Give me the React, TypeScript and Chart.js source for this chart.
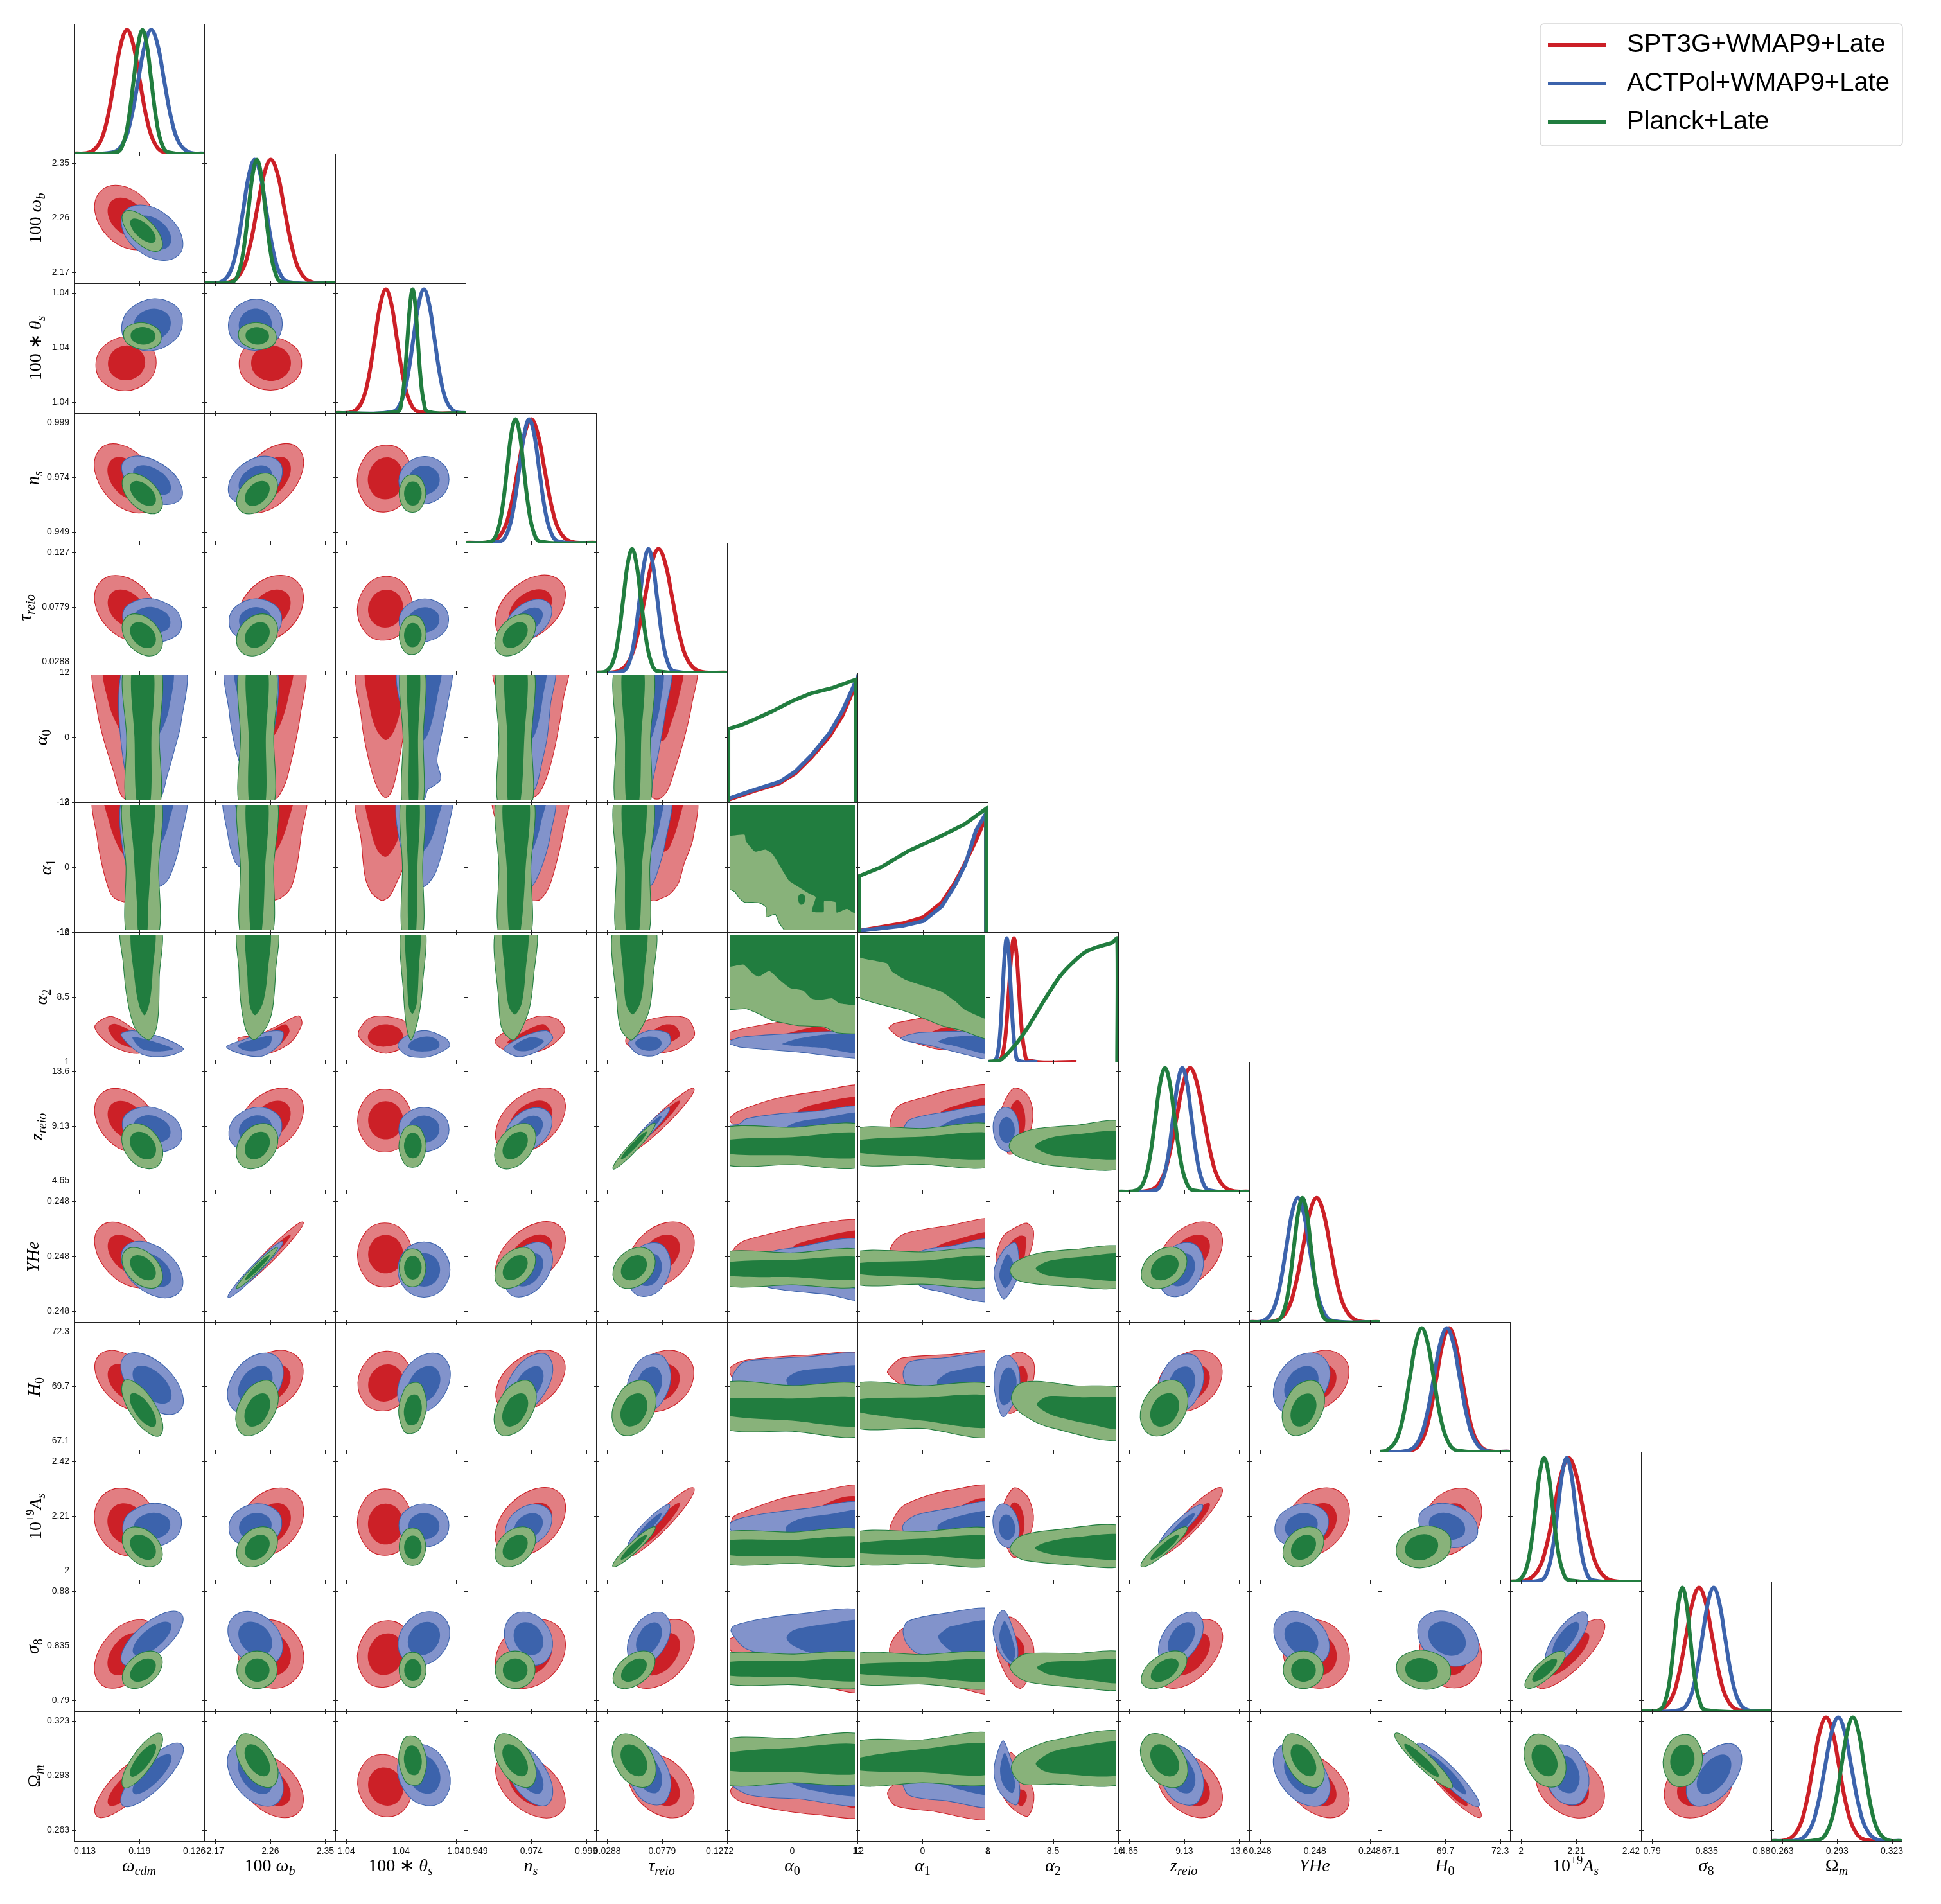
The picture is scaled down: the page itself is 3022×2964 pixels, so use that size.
import React, { useEffect, useRef } from "react";
import { Chart, registerables } from "chart.js";
Chart.register(...registerables);

// Triangle plot. Values are read off the reference. Contours are listed as x,y,x,y... in
// percent of each parameter's plotted range and converted to parameter units by toVal().
const seriesNames = ["SPT3G+WMAP9+Late", "ACTPol+WMAP9+Late", "Planck+Late"];
const seriesColors = ["#cc2027", "#3c63ac", "#217d3f"];
const seriesLight = ["#e27e82", "#8293cb", "#88b27a"];

const tick_wc = [0.113, 0.1195, 0.126]; const label_wc = ["0.113", "0.119", "0.126"];
const tick_wb = [2.17, 2.26, 2.35]; const label_wb = ["2.17", "2.26", "2.35"];
const tick_th = [1.0385, 1.04, 1.0415]; const label_th = ["1.04", "1.04", "1.04"];
const tick_ns = [0.949, 0.974, 0.999]; const label_ns = ["0.949", "0.974", "0.999"];
const tick_ta = [0.0288, 0.0779, 0.127]; const label_ta = ["0.0288", "0.0779", "0.127"];
const tick_a0 = [-12, 0, 12]; const label_a0 = ["-12", "0", "12"];
const tick_a1 = [-12, -2, 8]; const label_a1 = ["-12", "0", "8"];
const tick_a2 = [1, 8.5, 16]; const label_a2 = ["1", "8.5", "16"];
const tick_z = [4.65, 9.13, 13.6]; const label_z = ["4.65", "9.13", "13.6"];
const tick_y = [0.2478, 0.248, 0.2482]; const label_y = ["0.248", "0.248", "0.248"];
const tick_h = [67.1, 69.7, 72.3]; const label_h = ["67.1", "69.7", "72.3"];
const tick_as = [2, 2.21, 2.42]; const label_as = ["2", "2.21", "2.42"];
const tick_s8 = [0.79, 0.835, 0.88]; const label_s8 = ["0.79", "0.835", "0.88"];
const tick_om = [0.263, 0.293, 0.323]; const label_om = ["0.263", "0.293", "0.323"];
const axisTicks = [tick_wc, tick_wb, tick_th, tick_ns, tick_ta, tick_a0, tick_a1, tick_a2, tick_z, tick_y, tick_h, tick_as, tick_s8, tick_om];
const axisLabels = [label_wc, label_wb, label_th, label_ns, label_ta, label_a0, label_a1, label_a2, label_z, label_y, label_h, label_as, label_s8, label_om];

const mathNames: [string, string][][] = [
  [["ω", "i"], ["cdm", "s"]],
  [["100 ", "r"], ["ω", "i"], ["b", "s"]],
  [["100 ∗ ", "r"], ["θ", "i"], ["s", "s"]],
  [["n", "i"], ["s", "s"]],
  [["τ", "i"], ["reio", "s"]],
  [["α", "i"], ["0", "n"]],
  [["α", "i"], ["1", "n"]],
  [["α", "i"], ["2", "n"]],
  [["z", "i"], ["reio", "s"]],
  [["YHe", "i"]],
  [["H", "i"], ["0", "n"]],
  [["10", "r"], ["+9", "u"], ["A", "i"], ["s", "s"]],
  [["σ", "i"], ["8", "n"]],
  [["Ω", "r"], ["m", "s"]],
];
const yNameX = [0, 64, 64, 60, 48, 73, 80, 73, 66, 60, 62, 64, 60, 62];

// 1-D posteriors: x position (percent of range) where each curve crosses the levels in curveLevels.
const curveLevels = [0, 0.011, 0.089, 0.278, 0.607, 0.882, 1, 0.882, 0.607, 0.278, 0.089, 0.011, 0];
const pdf_wc = [[0, 12.3, 19.9, 25.6, 31.3, 36, 40.8, 45.5, 50.3, 56, 61.7, 69.3, 100], [0, 30.2, 38, 43.8, 49.6, 54.5, 59.3, 64.2, 69, 74.8, 80.6, 88.4, 100], [0, 32.8, 38.1, 42, 46, 49.3, 52.6, 55.9, 59.2, 63.2, 67.1, 72.4, 100]];
const pdf_wb = [[0, 19.9, 28.1, 34.3, 40.5, 45.7, 50.8, 56, 61.1, 67.3, 73.5, 81.7, 100], [0, 12.7, 19.6, 24.7, 29.9, 34.2, 38.5, 42.8, 47.1, 52.3, 57.4, 64.3, 100], [0, 21.3, 26.3, 30.1, 33.9, 37, 40.2, 43.4, 46.5, 50.3, 54.1, 59.1, 100]];
const pdf_th = [[0, 13.6, 20.3, 25.4, 30.4, 34.6, 38.8, 43, 47.2, 52.2, 57.3, 64, 100], [0, 44, 50.4, 55.2, 60, 64, 68, 72, 76, 80.8, 85.6, 92, 100], [0, 47.6, 50.7, 53.1, 55.4, 57.4, 59.3, 61.3, 63.2, 65.5, 67.9, 71, 100]];
const pdf_ns = [[0, 20.3, 28.3, 34.3, 40.3, 45.3, 50.3, 55.3, 60.3, 66.3, 72.3, 80.3, 100], [0, 26.2, 32.2, 36.7, 41.2, 45, 48.7, 52.5, 56.2, 60.7, 65.2, 71.2, 100], [0, 19.3, 24.3, 28.1, 31.9, 35, 38.2, 41.4, 44.5, 48.3, 52.1, 57.1, 100]];
const pdf_ta = [[0, 16.5, 24.8, 31, 37.3, 42.5, 47.7, 52.9, 58.1, 64.3, 70.6, 78.9, 100], [0, 20.2, 25.5, 29.4, 33.4, 36.7, 40, 43.3, 46.6, 50.6, 54.5, 59.8, 100], [0, 7.7, 13, 16.9, 20.9, 24.2, 27.5, 30.8, 34.1, 38.1, 42, 47.3, 100]];
const pdf_a2 = [[0, 8.9, 11.9, 14.1, 16.3, 18.2, 20, 21.9, 23.7, 25.9, 28.1, 31.1, 68], [0, 5.5, 7.9, 9.7, 11.5, 13, 14.5, 16, 17.5, 19.3, 21.1, 23.5, 38]];
const pdf_z = [[0, 24.3, 32.5, 38.6, 44.7, 49.8, 54.9, 60, 65.1, 71.2, 77.3, 85.5, 100], [0, 28.2, 33.7, 37.9, 42, 45.5, 48.9, 52.4, 55.8, 60, 64.1, 69.6, 100], [0, 14.1, 19.9, 24.2, 28.5, 32.1, 35.7, 39.3, 42.9, 47.2, 51.5, 57.3, 100]];
const pdf_y = [[0, 20.5, 28.8, 35, 41.3, 46.5, 51.7, 56.9, 62.1, 68.3, 74.6, 82.9, 100], [0, 10.9, 17.9, 23.2, 28.5, 32.9, 37.3, 41.7, 46.1, 51.4, 56.7, 63.7, 100], [0, 21.3, 26.5, 30.4, 34.3, 37.6, 40.8, 44.1, 47.3, 51.2, 55.1, 60.3, 100]];
const pdf_h = [[0, 24.5, 32.2, 38, 43.7, 48.5, 53.3, 58.1, 62.9, 68.7, 74.4, 82.1, 100], [0, 22.1, 29.9, 35.8, 41.7, 46.6, 51.5, 56.4, 61.3, 67.2, 73.1, 80.9, 100], [0, 5.3, 12.5, 17.9, 23.3, 27.8, 32.3, 36.8, 41.3, 46.7, 52.1, 59.3, 100]];
const pdf_as = [[0, 12.6, 21.2, 27.6, 34, 39.4, 44.7, 50.1, 55.4, 61.8, 68.2, 76.8, 100], [0, 23.5, 28.8, 32.7, 36.7, 40, 43.3, 46.6, 49.9, 53.9, 57.8, 63.1, 100], [0, 6.8, 11.9, 15.8, 19.6, 22.8, 26, 29.2, 32.4, 36.2, 40.1, 45.2, 100]];
const pdf_s8 = [[0, 14.5, 22.5, 28.5, 34.5, 39.5, 44.5, 49.5, 54.5, 60.5, 66.5, 74.5, 100], [0, 29.9, 36.8, 41.9, 47.1, 51.4, 55.7, 60, 64.3, 69.5, 74.6, 81.5, 100], [0, 14, 18.7, 22.3, 25.8, 28.8, 31.7, 34.7, 37.6, 41.1, 44.7, 49.4, 100]];
const pdf_om = [[0, 12.2, 20.1, 26.1, 32, 37, 41.9, 46.9, 51.8, 57.7, 63.7, 71.6, 100], [0, 21.2, 29.2, 35.2, 41.2, 46.2, 51.2, 56.2, 61.2, 67.2, 73.2, 81.2, 100], [0, 36.3, 43.3, 48.5, 53.7, 58.1, 62.4, 66.8, 71.1, 76.3, 81.5, 88.5, 100]];
// Non-Gaussian 1-D curves, as x,y pairs (y relative to peak).
const curve_a0 = [[1, .02, 20.4, .09, 40.4, .155, 52.4, .235, 64.4, .36, 78.4, .53, 88.4, .7, 98.6, .95, 98.6, 0], [1, .03, 20.4, .1, 40.4, .166, 52.4, .25, 64.4, .378, 78.4, .558, 88.4, .738, 98.6, .977, 98.6, 0], [1, 0, 1, .595, 10.4, .624, 20.4, .668, 34.4, .735, 50, .82, 64.4, .882, 80.4, .924, 98.6, .993, 98.6, 0]];
const curve_a1 = [[1, .01, 34.5, .07, 50.6, .12, 64.6, .24, 74.7, .4, 82.7, .56, 90.8, .74, 98.6, .93, 98.6, 0], [1, .01, 34.5, .05, 50.6, .09, 64.6, .208, 74.7, .378, 82.7, .546, 90.8, .82, 98.6, .96, 98.6, 0], [1, 0, 1, .452, 18.4, .526, 38.5, .653, 64.6, .78, 82.7, .876, 98.8, 1, 98.8, 0]];
const curve_a2_green = [0.8, 0, 9.9, .017, 21, .137, 31, .284, 43, .494, 55, .688, 65.3, .805, 75.4, .893, 85.5, .934, 95.6, .966, 99.2, 1, 99.2, 0];

// 2-D contours per row; each panel: [red outer, red inner, blue outer, blue inner, green outer, green inner].
const row_wb = [
  [[54,65.3,20.5,71,26,36.1,59.5,30.4],[49,59.8,28.7,63.2,32,42.2,52.3,38.8],[73.3,50.7,40,56.5,46.7,27.3,80,21.5],[68.3,46.2,47.5,49.8,51.7,31.8,72.5,28.2],[59,47,38.4,54.6,46,33.7,66.6,26],[57,44.5,44,49,49,36.5,62,32]],
];
const row_th = [
  [[57,53,23.5,52,23,23,56.5,24],[51,48,30.5,48,30,29,50.5,29.5],[78,82.6,44,81,42,53.4,76,55],[71,77,50,76,49,59,70,60],[63,66,41,66.5,42,53,64,52],[60,64,45.6,64,46,55,60.4,55]],
  [[68,52,33,52,33,24,68,24],[62,48,40,48,40,29,62,29],[54,82,24.5,81.6,24,54,53.5,54.4],[48,77,30,76.5,30,59,48,59.5],[51,66,29,66.5,30,53,52,52],[47,64,33.5,64,34,55,47.5,55]],
];
const row_ns = [
  [[53.3,64.7,20,72.2,26.7,34.7,60,27.2],[48.5,59,28.4,63.6,32.5,40.4,52.6,35.8],[72.1,57.4,39.3,63.9,47.9,39,80.7,32.5],[67.6,53.9,47.1,57.9,52.4,42.5,72.9,38.5],[60.3,45.8,39.1,51.5,44.7,30.2,65.9,24.5],[58,42.8,44.3,46.3,48,33.2,61.7,29.7]],
  [[72,72.7,37.7,63.8,29.4,26.7,63.7,35.6],[63.8,63.9,43.2,58.4,38.2,35.5,58.8,41],[56.3,63.2,27,58.6,21.7,33.2,51,37.8],[49.7,57.4,31.6,54.6,28.3,39,46.4,41.8],[53.4,51,31.6,46.7,27.2,25,49,29.3],[48.4,46,35.2,43.3,32.6,30,45.8,32.7]],
  [[53,69,24,68,23,30,52,31],[48,62,29.5,61,29,37.6,48,38],[82,61.4,54.4,60.7,54,35,81.6,35.7],[77,56,59.5,56,59,40,76.5,40.5],[66,49,52.4,49,52.4,27,66,27],[64,45,55,45,55,31,64,31]],
];
const row_ta = [
  [[54,64.4,20.5,70.2,26,34.6,59.5,28.8],[49,57.9,28.7,61.2,32,40.7,52.3,37.4],[75.6,50.7,41.8,52.4,44.4,29.9,78.2,28.2],[69.8,46.7,48.6,47.7,50.2,34.1,71.4,33.1],[61.3,38.3,39.8,42.4,43.7,19.7,65.2,15.6],[58.7,34.6,44.8,37.1,47.3,23.2,61.2,20.7]],
  [[70.9,70.1,35.9,64.6,30.5,28.9,65.5,34.4],[63.1,61.1,42.1,58,38.9,37.5,59.9,40.6],[54.2,51.9,24.5,51.3,23.8,28.7,53.5,29.3],[48.4,47.4,30,47,29.6,33.4,48,33.8],[52.7,41.9,30.7,39,27.9,16.1,49.9,19],[48,36.8,34.7,35,33,21,46.3,22.8]],
  [[53,68,24,67,23,31,52,32],[48.3,60,29.5,59.4,29,38.6,48,39],[82,52,54.4,51.3,53.7,28.7,81.6,29.3],[77,47.4,59.5,47,59,33.4,76.5,33.8],[66.3,40.8,52.6,40.2,52.3,17.2,66,17.8],[64,36,55,36,55,21.6,64,22]],
  [[72.3,70.8,34.9,63.5,27.1,28.2,64.5,35.5],[63.7,61.6,40.5,57.4,35.7,37,58.9,41.2],[63.5,53.8,38.4,48.9,32.9,26.8,58,31.7],[57.6,48.5,42.2,45.6,38.8,32.3,54.2,35.2],[51.1,42.6,29.5,37.9,24.9,15.4,46.5,20.1],[46,37.3,32.7,34.4,30,20.5,43.3,23.4]],
];
const row_a0 = [
  [[16,105,18,70,23,48,31,22,35,8,40,2,55,2,60,105],[23.5,105,27,75,33,60,40,48,50,48,55,105],[38,105,84.5,105,82,60,77,40,72,22,65,2,44,2],[45,105,75,105,73,72,67,55,60,48,48,48],[39,105,66,105,65.5,50,65,-5,41.5,-5,40.5,50],[45,105,60.5,105,59.5,50,58,-5,49,-5,46.5,50]],
  [[40,105,76,105,73,65,70,48,66,30,62,15,55,3,45,3],[40,105,67,105,64,80,58,60,50,48,40,48],[17,105,19,70,23,45,28,28,35,15,45,15,55,105],[24,105,27,75,30,60,45,60,55,105],[27.7,105,53.7,105,53,50,52,-5,27.7,-5,27.7,50],[32.7,105,48,105,47,50,46,-5,35,-5,34,50]],
  [[17.5,105,20,65,23,45,29,20,34,8,38.8,3.5,43,8,47,22,52,50,60,105],[24,105,27,70,32,55,38.8,48,45,55,50,72,52,105],[48.5,105,88,105,86,75,81,50,78,32,81,18,76,13,71,10,68,2,60,2,55,50],[55,105,80.5,105,78,80,73,58,68,48,58,48],[50.5,105,68,105,67.4,50,66.5,-5,52,-5,52,50],[55.5,105,64.5,105,63.5,50,63,-5,57,-5,56.5,50]],
  [[22.5,105,77.5,105,75,80,70,50,64,25,57,8,50,3,40,3,28,70],[35,105,62,105,58,75,50,60,40,60],[30,105,67.5,105,65,75,62.5,50,59,33,54,12,49,6,38,6],[36,105,61,105,59,80,55,58,50,48,38,48],[25,105,51.3,105,50.5,50,49.7,-5,26,-5,25.5,50],[30.7,105,46.4,105,45,50,41,-5,33,-5,32,50]],
  [[30,105,75.5,105,73,75,67,48,61,28,55,10,49,3,44,3,40,10,38,50],[40,105,65.7,105,63,80,57,60,52,48,42,48],[25,105,56.5,105,53,70,48,40,43,15,41,2,30,2],[30,105,50.5,105,49,75,45,58,41,48,31,48],[15,105,42.8,105,41.5,50,40,-5,16,-5,15.5,50],[20.5,105,36,105,34.5,50,32,-5,23.7,-5,22,50]],
];
const row_a1 = [
  [[16,105,18,72,22,50,28,30,33,25,42,24,58,50,60,105],[24,105,27,85,33,68,40,58,50,58,55,105],[38,105,85,105,82,72,78,55,72,40,65,35,45,35],[45,105,75.6,105,73,85,68,70,62,64,48,64],[38.6,105,66,105,65,50,64,-5,41.5,-5,40,50],[44.5,105,61,105,59.5,60,57,20,55.5,-5,50,-5,48.5,20,46,60]],
  [[40,105,76.8,105,74,75,70.5,50,66,34,58,26,50,24,45,24],[40,105,67,105,64,85,57,66,51,60,40,60],[16,105,18,75,23,55,28,50,45,50,55,105],[24,105,27,85,32,70,45,70,55,105],[26.8,105,54.6,105,53,50,51,-5,28.7,-5,27.7,50],[32.7,105,48,105,46.5,50,43,-5,36,-5,34,50]],
  [[17,105,20,70,23,42,28,30,34,25,37,24.5,42,28,47,38,52,50,60,105],[24,105,28,75,33,62,38.8,58,45,65,50,78,52,105],[48,105,88.5,105,86,78,81,58,76,44,68,35,58,35],[55,105,81.5,105,78,85,73,70,67,62,58,62],[51,105,67.4,105,67,50,66.5,-5,52,-5,51.5,50],[55,105,64.2,105,63,50,61.5,-5,56.5,-5,55.7,50]],
  [[22,105,77.5,105,75,78,70,55,64,35,57,25,50,24,40,24,28,70],[35,105,62,105,58,85,50,70,40,70],[30,105,67.5,105,65,75,60,55,54,40,50,35,38,35],[36,105,61,105,58,85,54,70,50,62,38,62],[24.5,105,51.3,105,50,50,49,-5,26.5,-5,25.5,50],[29.5,105,48,105,46,50,41,-5,34,-5,31.5,50]],
  [[33,105,75.5,105,74,72,67,52,63,38,56,29,50,26,44,24,40,26,37,50],[40,105,65.7,105,63,85,56,65,52,62,42,62],[25,105,56.5,105,53,70,48,50,42,36,30,36],[30,105,51,105,49,85,45,70,41,63,31,63],[15,105,42.8,105,41,50,39,-5,16.5,-5,15.7,50],[20.8,105,37.7,105,35,50,32,-5,23.7,-5,22,50]],
  [[],[],[],[],[0,34.5,6,31,9.4,26,13.4,23,20,23,26,22,30,19,30,11.7,37,13.7,40,7,46,0,105,0,105,105,0,105],[0,74.7,13.4,75,14.4,70,21.4,62,29.4,63.6,35,60,43.4,46,47.4,39.6,54.4,35,62.4,30,68,27,65,16,74,15.5,74.5,24,83.4,23,84,15,87,16,92,18,97,15,105,15,105,105,0,105],[54.5,26,57,29.5,60,26,57,21]],
];
const row_a2 = [
  [[16,27,28,35,42,28,62,12,48,6.5,28,13],[26.5,25,33,29,52,15,40,12],[36,21,45,24,67,19,84,10,72,4.6,52,6],[45,19,60,16,76,10,65,8,52,10],[37,105,66,105,65.5,65,65,40,63,25,58,17,52,20,46,28,41,48,38,75],[44.5,105,61.5,105,60.5,70,58.5,48,54.5,36,50.5,42,47,60]],
  [[25.5,18,42,21,60,30,72,35.5,74.5,29,66,15,50,6.7,40,8],[35,15,50,23,62,29,65,23,55,11,44,10],[17,11.5,30,17,50,23.5,60,23,58,14,45,4.6,30,5.5],[25.5,13,40,18,51,20,50,13,40,8.5,30,9],[26.5,105,55,105,54.5,70,52,40,47,26,38,17,32,24,28,45,26.5,70],[32.7,105,49.7,105,48.5,70,45,46,39,36,35,42,33,65]],
  [[17.6,21,25,33,37,35.3,55,30,58,15,40,6.7,28,10],[25,19,38,29,52,20,38,11.7],[48,13,56,21,70,24,85,18,87.6,12,72,4,55,5],[56,12,70,19.5,80,13,69,8],[51,105,68.4,105,67,60,64,35,58.3,17,55,25,52.5,50],[54.4,105,64.8,105,64,70,62.5,45,59.3,37,56.5,42,55,65]],
  [[22.5,16,30,23,55,35,70,33,76,24,65,12,48,6.7,28,10],[32,15,50,26,60,29,65,22,50,14],[29.4,10,45,20,62,24,66.7,18,55,8,40,4],[36.6,12,50,19,60,16,50,9,40,8.5],[24,105,53,105,52,65,48,38,37,17,28,25,25.5,45],[29.4,105,47,105,46,70,43,45,38,36.5,33,43,30.5,65]],
  [[22.5,16,35,30,55,35,70,33,75,20,60,9,35,7],[33,15,50,28,60,28,64,20,50,13],[25,15,40,24,55,22,56.5,14,45,5,32,6],[30,14,40,19.5,50,15,42,8.5],[14,105,44.4,105,43.5,65,40,38,27.5,17,19,25,16,45],[20,105,38,105,37,70,34,46,28,36.5,23,44,21,65]],
  [[0,22,14,26,40,30.5,60,28,80,26,105,20,105,10,60,10,10,16,0,18],[44,21,58,25,70,27.5,82,23,105,20,105,15,60,15],[0,15,10.4,19,34,21,80,23.4,105,23,105,3,54,7.6,10.4,11.3],[42,13.7,54,17.8,74,21,105,22,105,6,74,10.7,54,12],[0,41,14.4,41,24.4,37,34.4,32,54,28,74.4,27,84.4,22.4,105,23,105,105,0,105],[0,73.5,12.4,75,20.4,67.5,24.4,65.7,32.4,70,40.4,63,48.4,56.8,58.4,55,64.4,49,70.4,47.5,80.4,49,86.4,45,105,44.5,105,105,0,105]],
  [[24,26,28,29.5,40,32,50.5,33.7,62,30,80,24,105,18,105,8,60,10,32,19],[56,22.5,65,26,71,26.8,79,22.5,105,16,70,16],[33,18,38,20.5,47,22.5,79,23.5,105,18,105,1,55,12.8,38.6,15.8],[62,15.8,70.6,19,85,20,105,20,105,5,72.6,12.8,66,14],[0,50.7,14.4,45,30.4,41,42.4,37,52,33,64.6,28,80.6,24,105,17,105,105,0,105],[0,81.4,22.5,76,26.5,69.5,36.5,63.4,52.5,58,64.6,54,74.6,47,82.6,40,105,32,105,105,0,105]],
];
const row_z = [
  [[54,69.2,20.5,74.9,26,40,59.5,34.3],[49,63.8,28.7,67.2,32,46.2,52.3,42.8],[75.2,58.4,41.4,60.8,44.8,37.2,78.6,34.8],[69.5,54.6,48.4,56.1,50.5,41.8,71.6,40.3],[61.6,45.4,39.9,49.4,43.4,24.6,65.1,20.6],[58.9,41.8,44.9,44.3,47.1,29.2,61.1,26.7]],
  [[71.3,75.2,36.4,68.9,30.1,34,65,40.3],[63.3,67.3,42.4,63.6,38.7,42.7,59.6,46.4],[54.9,60.5,25.3,58.8,23.1,35.1,52.7,36.8],[48.9,55.9,30.5,54.9,29.1,40.5,47.5,41.5],[52.9,49.2,30.9,45.7,27.7,20.8,49.7,24.3],[48.1,44.1,34.8,42,32.9,26.9,46.2,29]],
  [[52.4,72.3,23.6,72.3,23.6,37,52.4,37],[48,65.6,29.3,65.6,29.3,44.4,48,44.4],[82,59.7,54,59.7,54,36,82,36],[76.7,55.4,59.3,55.4,59.3,41,76.7,41],[66,47.6,52.4,47.6,52.4,22.4,66,22.4],[64,43,55,43,55,28,64,28]],
  [[72.5,75.7,35.1,68.1,26.9,33.5,64.3,41.1],[63.8,67.6,40.7,63.1,35.6,42.4,58.7,46.9],[63.2,61.6,37.8,57.4,33.2,34,58.6,38.2],[57.4,56.6,41.8,54,39,39.8,54.6,42.4],[51.1,49.9,29.5,44.8,24.9,20.1,46.5,25.2],[46,44.5,32.7,41.4,30,26.5,43.3,29.6]],
  [[74.7,79.4,45.9,58.1,24.3,29.8,53.1,51.1],[63.9,69.9,47.2,57.1,34.7,40.1,51.4,52.9],[56.1,64.4,38,50.2,24.5,31.2,42.6,45.4],[49.9,58.3,39,49.6,30.9,38.1,41.8,46.8],[45.1,52.6,26.7,37.5,12.9,17.4,31.3,32.5],[38.8,46.2,27.5,37,19,24.8,30.3,34]],
  [[2,56,7,61,22,67,40,72.3,71,77.4,105,81,105,55,5,52],[54,62,66,67,105,73,105,60,60,60],[0,50.7,9,52,15,56.2,40,60,68,62,105,65,105,45,0,45],[46,50,55,54,74,56.8,105,60.5,105,46,46,46],[-5,48,50,49.5,105,50.7,105,20,50,20.8,-5,22],[-5,39,50,42,105,44.5,105,27,50,28,-5,30]],
  [[25,50,27,60,33,67,47,71.5,72,78.4,105,81,105,55,30,48],[64,61.5,81,68,105,72.5,105,60,70,58],[35,48,40,55.5,65,61,105,65.5,105,45,35,45],[62,49,75,56,105,60,105,45,62,45],[-5,47.5,50,48.7,105,51,105,20.3,50,21,-5,22.4],[-5,38.8,50,42.3,105,44.4,105,26,50,27,-5,31]],
  [[8,52,13,70,20.4,79.8,30,75,34.5,62,32,45,24,32,15.5,29.3],[15.7,50,22,70.3,28.8,55,22,38],[4,50,14.5,65,24,47,14.5,31],[8.5,47.5,14.4,57.6,20.7,47,14.4,37.4],[16.3,35,20,42,34.5,48,66,51,105,53,105,19,50,20,31,24,20,29],[36,35,41,39,50,42,66,44,105,45.5,105,26,66,26.5,50,28,41,31]],
];
const row_y = [
  [[52.9,65.1,19.8,72.8,27.1,37.7,60.2,30],[48.3,60.1,28.3,64.6,32.7,43.9,52.7,39.4],[72.9,51.8,39.8,58.3,47.1,28.6,80.2,22.1],[68.1,47,47.4,51,51.9,33,72.6,29],[60.9,50,39.4,54.7,44.1,33,65.6,28.3],[58.4,46.8,44.6,49.7,47.6,36.4,61.4,33.5]],
  [[75.5,76.6,47.7,54.5,25.9,26.2,53.7,48.3],[65.9,66.9,49.2,53.8,36.1,37.1,52.8,50.2],[59.8,61.5,36.4,42.8,18.2,18.9,41.6,37.6],[51.9,52.9,37.4,41.6,26.1,27.1,40.6,38.4],[55.9,57.1,38.4,43.4,24.7,25.9,42.2,39.6],[49.9,51.1,39.3,42.8,31.1,32.1,41.7,40.4]],
  [[52.4,69.4,23.6,69.4,23.6,33.4,52.4,33.4],[48,62.6,29.3,62.6,29.3,41.4,48,41.4],[82,55.4,54,55.4,54,25,82,25],[76.7,49.2,59.3,49.2,59.3,30.8,76.7,30.8],[66,52.6,52.4,52.6,52.4,30.4,66,30.4],[64,48.4,55,48.4,55,34.8,64,34.8]],
  [[72.7,73.1,35.6,64.7,26.7,29.7,63.8,38.1],[63.9,64.8,41,59.8,35.5,39.2,58.4,44.2],[63.3,58.1,38.1,52.1,33.1,22.3,58.3,28.3],[57.5,50.8,42,47.2,38.9,29.2,54.4,32.8],[51,54.6,29.3,50.2,25,28.4,46.7,32.8],[46,49.6,32.7,46.9,30,33.6,43.3,36.3]],
  [[70.5,72.3,35,65.9,28.5,30.5,64,36.9],[61.4,64.3,40.9,60.6,37.2,39.7,57.7,43.4],[52.7,56.9,30.2,53.8,27.9,23.5,50.4,26.6],[47.8,50.1,34.3,48.2,33,29.9,46.5,31.8],[42,54.1,19.2,50.9,16,28.9,38.8,32.1],[36.9,49.3,22.9,47.4,20.9,33.9,34.9,35.8]],
  [[2,50,6,57,13,62.2,40,69.3,57,73.3,105,77.5,105,55,2,45],[51,58,64.6,63,105,70,105,55,60,54],[25,45,29,52.5,49,56.6,105,62,105,18,78,21,40,25,27,29],[60,40,105,52,105,26,80,30,60,30],[-5,52.5,50,53,105,54.5,105,28.3,50,28.5,-5,29],[-5,45,50,47.7,105,49,105,33.5,50,34.3,-5,36.4]],
  [[24,50,27.7,61,37,68,72,74.3,105,78.5,105,55,30,48],[60.7,57.6,75,63,105,69,105,55,65,54],[44,45,48,54,70,58,105,62,105,17,60,24,47,28.5],[70,40,105,52,105,25,85,29,70,30],[-5,52.7,50,53.7,105,54.7,105,28,50,29,-5,30],[-5,44.4,50,47,105,50,105,33,50,34.3,-5,37.6]],
  [[6.3,50,12,66,22,73,30,75.8,35,70,33,55,24,35,15,27,9,35],[16,58,24,66,29,65,27,45,19,33],[4.7,38,12,55,21,60.8,24,47,22,32,12,17.8],[8.8,36,15,52,20.4,42,17,30,13,26],[17,39.4,21,46,37.6,52.5,66,55.6,105,56.6,105,27.8,57,27.8,31,30,21,33],[36.7,41,42,45,50,47.5,72,50,105,51.5,105,33,72,33.4,50,35,42,37]],
  [[75.5,72.7,40.9,65.3,33.7,30.1,68.3,37.5],[67.6,64.6,46.8,60.2,42.4,39.4,63.2,43.8],[61.1,57.2,37.5,53.4,34.5,23.2,58.1,27],[56.3,50.3,42,48,40.1,29.7,54.4,32],[49.3,54.2,24.5,50.8,20.7,28.8,45.5,32.2],[44.2,49.3,29.1,47.3,26.8,33.9,41.9,35.9]],
];
const row_h = [
  [[52.5,66.8,19.5,74.5,27.5,42.2,60.5,34.5],[48.1,60.6,28.1,65.4,32.9,45.4,52.9,40.6],[71.4,63.9,38.9,73.6,48.6,41.3,81.1,31.6],[67.1,58.7,46.8,64.6,52.9,44.7,73.2,38.8],[58.5,42.3,38.2,54.2,46.5,25.1,66.8,13.2],[56.9,37.3,43.8,44.5,49.1,27.1,62.2,19.9]],
  [[70.9,73.4,35.9,68.4,30.5,35.6,65.5,40.6],[63.1,64.7,42.1,61.6,38.9,41.3,59.9,44.4],[56.3,72.2,27,66.2,21.7,33,51,39],[49.7,63.8,31.6,60.1,28.3,39.6,46.4,43.3],[53.4,52.2,31.6,46,27.2,15.2,49,21.4],[48.4,43.3,35.2,39.6,32.6,21.1,45.8,24.8]],
  [[53,72,24.3,70.3,23,37,51.7,38.7],[48.6,63.8,29.8,62.7,28.8,42.2,47.6,43.3],[84,72,56.3,66.7,52,33.3,79.7,38.5],[78,63.5,60.7,60.4,58,40,75.3,43],[66.7,50.5,53,48.2,52,17,65.6,19.2],[64.3,42.2,55.4,40.9,54.7,22.2,63.6,23.5]],
  [[72.5,74.3,35.1,67.2,26.9,34.7,64.3,41.8],[63.8,65.2,40.7,60.8,35.6,40.8,58.7,45.2],[63.9,73.2,39,64.7,32.5,32,57.4,40.5],[57.9,64.4,42.5,59.1,38.5,39,53.9,44.3],[51.2,52.4,29.6,45.7,24.8,15,46.4,21.7],[46.1,43.4,32.8,39.4,29.9,21,43.2,25]],
  [[69.6,73.1,33.9,68.9,29.4,35.9,65.1,40.1],[60.9,64.5,40.3,61.9,37.7,41.5,58.3,44.1],[52.9,71.5,30.5,67.2,27.7,33.7,50.1,38],[48,63.3,34.5,60.7,32.8,40.1,46.3,42.7],[42,51.5,19.2,47,16,15.9,38.8,20.4],[36.9,42.8,22.9,40.2,20.9,21.6,34.9,24.2]],
  [[2,64,12,70,30,72.5,62,74.5,105,75.6,105,60,6,56],[60,60,105,66,105,50,60,50],[4,55,6,62,13.4,69.3,30.6,71.3,62,73.3,105,74.2,105,45,10,48],[45.6,56,55.6,62.2,74,64.2,105,65.5,105,48,50,48],[-5,52,50,51,105,50.5,105,13.3,50,15.8,-5,19.2],[-5,40,50,41,105,40.6,105,20.4,50,24,-5,29]],
  [[23,61,27,67,34,72.3,72,75,105,76.2,105,50,38,50],[70,58,105,66,105,50,75,50],[40,48,35,60,40,69.3,65,72.3,105,74.2,105,45,50,45],[61,54,66,59,72,62,105,65.7,105,48,64,48],[-5,51.4,50,51,105,50.5,105,12.4,50,18,-5,20],[-5,39.6,50,41.8,105,42,105,19.4,50,24,-5,32]],
  [[8,50,15,72,25,76.8,35,69.3,34,52,22,32,15.7,30],[20,62,27,66,30.5,58,26,42,20,42],[4.7,55,8,70,15.7,74.3,23,66,24.4,50,20,38,11.8,27,7,38],[8.8,50,15.7,65,22,52,12.5,36],[18,41,23.5,52,37.6,54.3,66,51,105,47,105,10,47,19,25,30],[37.6,36.6,42,41,47,43,72,42,105,40,105,18,75,22,50,28,42,32]],
  [[74.6,73.3,39.6,68.6,34.6,35.7,69.6,40.4],[67,64.6,46,61.7,43,41.4,64,44.3],[61.1,71.5,37.5,67.2,34.5,33.7,58.1,38],[56.3,63.3,42,60.7,40.1,40.1,54.4,42.7],[49.2,51.5,24.3,47,20.8,15.9,45.7,20.4],[44.1,42.8,29,40.2,26.9,21.6,42,24.2]],
  [[71.7,73.3,36.2,68.6,31.1,35.7,66.6,40.4],[64,64.6,43,61.7,40,41.4,61,44.3],[57.6,72,27.6,66.6,22.8,33.2,52.8,38.6],[50.5,63.6,32.4,60.3,29.5,39.8,47.6,43.1],[54.2,51.7,32.3,46.7,28.8,15.7,50.7,20.7],[49.4,43,36,40,33.8,21.4,47.2,24.4]],
];
const row_as = [
  [[55.6,63,21.8,66,24.4,28.5,58.2,25.6],[50,55,29.5,56.6,31,33.7,51.5,32],[77.8,55.2,44,54,42.2,31.2,76,32.3],[71,50,50,49.3,49,35.2,70,36],[61.3,35.5,39.8,39.4,43.7,18,65.2,14],[58.7,32,44.8,34.3,47.3,21,61.2,18.5]],
  [[70.9,67.2,35.9,61.5,30.5,24.4,65.5,30.1],[63.1,57.4,42.1,53.9,38.9,31.2,59.9,34.7],[54.6,55.2,24.9,54.1,23.4,31.2,53.1,32.3],[48.6,50,30.3,49.3,29.4,35.2,47.7,35.9],[52.9,39.1,30.9,36,27.7,14.3,49.7,17.4],[48.1,34.1,34.8,32.2,32.9,18.7,46.2,20.6]],
  [[52.4,64.6,23.6,64.6,23.6,27,52.4,27],[48,55.8,29.3,55.8,29.3,32.8,48,32.8],[82,54.7,54,54.7,54,31.7,82,31.7],[76.7,49.7,59.3,49.7,59.3,35.5,76.7,35.5],[66,37.7,52.4,37.7,52.4,15.7,66,15.7],[64,33.2,55,33.2,55,19.6,64,19.6]],
  [[72.3,68.1,34.9,60.4,27.1,23.5,64.5,31.2],[63.7,57.9,40.5,53.2,35.7,30.7,58.9,35.4],[62.8,56.2,37.3,52.9,33.6,30.2,59.1,33.5],[57.2,50.6,41.5,48.6,39.2,34.6,54.9,36.6],[50.8,39.4,29.1,35.5,25.2,14,46.9,17.9],[45.9,34.3,32.5,31.9,30.1,18.5,43.5,20.9]],
  [[74.6,72,45.1,50.4,24.4,19.6,53.9,41.2],[63.8,60.3,46.8,47.1,34.8,28.3,51.8,41.5],[56.1,59.2,37.5,46,24.5,27.2,43.1,40.4],[49.9,52.5,38.7,44.3,30.9,32.7,42.1,40.9],[45.1,42,26.2,29.4,12.9,11.4,31.8,24],[38.8,35.9,27.2,28.1,19,16.9,30.6,24.7]],
  [[3,44,5,50,13.4,54,41.6,64,68,69,105,73.5,105,50,5,40],[74,59,105,64.5,105,50,80,52],[2,44,10.3,48.7,30.6,52.6,62,56.5,105,60.5,105,35,7,35],[45.6,42.5,55.6,48.3,77.5,51.7,105,54.5,105,36,47,36],[-5,37,50,38,105,39.5,105,13.9,50,13.9,-5,14.9],[-5,31,50,32,105,34,105,19.4,50,19.4,-5,21.3]],
  [[25,37,26,45,34,57.5,50,65,72,70.6,105,73,105,45,30,35],[80,58.5,105,63,105,50,82,50],[34.6,42,38,47,46.5,51.7,71.7,56.6,105,61,105,35,38,35],[61.6,43,71.7,48.7,105,54,105,36,64,36],[-5,37,50,38.5,105,40,105,13.1,50,14,-5,14.9],[-5,28.8,50,33,105,34.4,105,18.4,50,20.4,-5,22.7]],
  [[8.8,44,13,62,20.4,72.2,30,66,35,50.7,32,35,24,20,19,19,13,30],[16,50,21,61,28,46.8,23.5,33],[4,44,12,59.9,24,42,15.7,26],[8.5,41,14,51.7,21,41,15,32],[17,25,21,32,28,36,47,39.3,105,42,105,13,62.7,13,28,16.4,21,20],[36,25.8,41,29,50,31.5,66,34,105,35.5,105,18,72,18.4,50,20.7,41,23]],
  [[79.1,71.9,49.6,51.1,30.1,19.7,59.6,40.5],[69.7,60.2,52,47.5,40.3,28.4,58,41.1],[64.3,59.1,44.4,46.4,31.3,27.3,51.2,40],[58.2,52.4,46.2,44.6,38.2,32.8,50.2,40.6],[52.4,41.9,31.4,29.8,17.6,11.5,38.6,23.6],[46.1,35.8,33.3,28.3,24.9,17,37.7,24.5]],
  [[71.9,67.2,36.4,61.5,30.9,24.4,66.4,30.1],[64.1,57.4,43.1,53.9,39.9,31.2,60.9,34.7],[56.5,55.5,26.2,53.8,23.9,30.9,54.2,32.6],[49.9,50.2,31.5,49.1,30.1,35,48.5,36.1],[54.1,39.1,32.1,36,28.9,14.3,50.9,17.4],[49.3,34.1,35.8,32.2,33.9,18.7,47.4,20.6]],
  [[73.4,67.2,40.6,61.5,35.6,24.4,68.4,30.1],[64.7,57.4,44.4,53.9,41.3,31.2,61.6,34.7],[67.7,53.4,34.1,55.8,37.5,33,71.1,30.6],[61,48.9,40.3,50.4,42.4,36.3,63.1,34.8],[50.5,38.4,19.2,36.8,16.9,15,48.2,16.6],[42.3,33.7,23.5,32.7,22.1,19.1,40.9,20.1]],
];
const row_s8 = [
  [[60.2,66.7,27.1,58.6,19.8,21.7,52.9,29.8],[52.7,58,32.7,52.9,28.3,30,48.3,35.1],[82.1,75.4,50.7,64.1,37.9,36.6,69.3,47.9],[73.8,68,54.2,61,46.2,44,65.8,51],[65.5,44,44,39.8,39.5,20,61,24.2],[61.4,39.1,47.5,36.6,44.6,24.3,58.5,26.8]],
  [[67.5,62.1,32.1,64,33.9,26.3,69.3,24.4],[61.1,55.1,39.9,56.3,40.9,32.9,62.1,31.7],[51.6,68.6,22.2,72.8,26.4,43.4,55.8,39.2],[46.8,63.8,28.6,66.4,31.2,48.2,49.4,45.6],[51.4,42.1,29.2,42.1,29.2,21.9,51.4,21.9],[47.2,38,33.8,38,33.8,25.4,47.2,25.4]],
  [[53.1,64,24.3,62.1,22.9,24.4,51.7,26.3],[48.6,56.3,29.8,55.1,28.8,31.7,47.6,32.9],[83.3,72.3,55.6,69.3,52.7,39.7,80.4,42.7],[77.5,66.1,60.2,64.2,58.5,45.9,75.8,47.8],[66.2,42.1,52.4,42.1,52.4,21.9,66.2,21.9],[64,38,55,38,55,25.4,64,25.4]],
  [[71,65.3,33.2,60.5,28.4,23.1,66.2,27.9],[62.9,57.1,39.5,54.2,36.5,30.9,59.9,33.8],[59.7,69.3,34.1,72.3,36.7,42.7,62.3,39.7],[55.3,64.2,39.5,66.1,41.1,47.8,56.9,45.9],[49,42.1,27,42.1,27,21.9,49,21.9],[44.8,38,31.2,38,31.2,25.4,44.8,25.4]],
  [[71,66.7,35.8,58.6,28,21.7,63.2,29.8],[61.7,58,41.4,52.9,36.9,30,57.2,35.1],[53.7,73.6,31.5,67.5,26.9,38.4,49.1,44.5],[48.4,66.9,35.1,63.1,32.4,45.1,45.7,48.9],[42.9,44.2,20.5,39.5,15.1,19.8,37.5,24.5],[37.4,39.3,23.7,36.3,20.4,24.1,34.1,27.1]],
  [[0,50,2.5,56,20,60,105,62,105,16,71,19.6,30,25],[60,40,105,50,105,25,70,30],[3,62,5.6,66,27.5,71.4,52.5,74.8,105,76.5,105,40,30.6,44,15,48,9,53],[45.6,56.8,50,62,58.8,64.6,77.5,67.5,105,69,105,43,68,44,50,51],[-5,43.4,50,44,105,44,105,19.2,50,20.5,-5,22.5],[-5,37.2,50,38.7,105,39,105,23.9,50,26.4,-5,28.4]],
  [[24.5,46,27,55,34.6,63.6,50,68,105,70,105,15,75,18.6,40,25,28,40],[50,40,105,50,105,30,60,30],[35,62,39,69.5,65,75.3,105,77.5,105,40,48,44,38,52],[62,57.7,66,62,72,65.6,105,69,105,43,75,45,65,52],[-5,43.4,50,43.7,105,44,105,18.6,50,21,-5,22.5],[-5,35.6,50,38,105,39,105,23.5,50,26.4,-5,29.7]],
  [[6.3,50,12,68,17.2,72.8,26,66,35,50,33,30,25,17.6,14,28],[15,55,20,59,28,49,24,27,16,35],[4,62,7,73,12,77.9,17,70,23,48,21,35,13,40,7,50],[8.8,58,13,69.5,21,47,18.8,38,12,45],[17,34,21,40,30,44.5,66,44.6,105,44.5,105,18,62.7,19,31,22.5,21,28],[37.6,33.7,42,36.5,47,38,66,38.7,105,38.7,105,22.5,72,24.9,47,28.4,42,30.5]],
  [[76.2,67.2,42,57.7,33,21.2,67.2,30.7],[67.9,58.3,47.4,52.4,42.1,29.7,62.6,35.6],[62.1,73.9,39,67,33.5,38.1,56.6,45],[56.9,67.1,42.9,62.8,39.5,44.9,53.5,49.2],[50.4,44.3,26,39.2,19.6,19.7,44,24.8],[44.8,39.4,30,36.2,26.2,24,41,27.2]],
  [[68.4,62.1,32.6,64,34.4,26.3,70.2,24.4],[62.1,55.1,40.9,56.3,41.9,32.9,63.1,31.7],[53.1,68.6,23,72.8,27.3,43.4,57.4,39.2],[47.8,63.8,29.6,66.4,32.2,48.2,50.4,45.6],[52.6,42.1,30.4,42.1,30.4,21.9,52.6,21.9],[48.4,38,34.8,38,34.8,25.4,48.4,25.4]],
  [[70.3,62.1,37.1,64,38.7,26.3,71.9,24.4],[62.7,55.1,42.2,56.3,43.3,32.9,63.8,31.7],[67.2,68.9,33.7,72.6,38,43.1,71.5,39.4],[60.7,64,40.1,66.3,42.7,48,63.3,45.7],[48.6,41.6,17.2,42.6,18.8,22.4,50.2,21.4],[41.1,37.7,22.3,38.3,23.3,25.7,42.1,25.1]],
  [[71,69.5,37.4,52.6,20.6,18.9,54.2,35.8],[59.7,59.8,39.2,49.2,28.9,28.2,49.4,38.8],[58.3,75.6,37.5,63.4,28.1,36.4,48.9,48.6],[52,68.2,39.1,60.6,33.2,43.8,46.1,51.4],[41.4,45.6,21.8,36.5,12,18.4,31.6,27.5],[35.5,40.1,23.4,34.5,17.3,23.3,29.4,28.9]],
];
const row_om = [
  [[62.6,66,32,50.9,17.4,19.4,48,34.5],[54.2,56.1,35.7,47,26.8,27.9,45.3,37],[82.8,74.3,52.4,58.7,37.2,27.7,67.6,43.3],[74.2,66.2,55.3,56.4,45.8,36.8,64.7,46.6],[67.2,82.2,47.6,68.7,37.8,41.8,57.4,55.3],[62.5,74.3,49.8,66.2,43.5,50.1,56.2,58.2]],
  [[64.2,56,29.6,63.5,37.2,29.4,71.8,21.9],[59.1,50.1,38.4,54.6,42.9,33.9,63.6,29.4],[50.3,64.2,21.3,71.7,27.7,37.8,56.7,30.3],[46,59.9,28,64.6,32,43.1,50,38.4],[48.2,72.8,26.8,80.4,32.4,51.2,53.8,43.6],[45.3,68.6,32.3,73.2,35.7,55.8,48.7,51.2]],
  [[51.7,59.3,22.9,61,24.3,26.1,53.1,24.4],[47.6,52.1,28.8,53.1,29.8,31.9,48.6,30.9],[80.5,66.5,52.7,70,55.5,35.5,83.3,32],[75.8,61.3,58.5,63.5,60.2,41.7,77.5,39.5],[65.8,76.3,52.1,77.8,52.8,47.7,66.5,46.2],[63.7,70.7,54.8,71.6,55.3,53.7,64.2,52.8]],
  [[63.8,55.6,26.7,63.8,35.6,29.8,72.7,21.6],[58.4,49.8,35.5,54.8,41,34.2,63.9,29.2],[56.8,62.6,32.2,72.6,39.6,39.4,64.2,29.4],[53.5,58.8,38.3,65.1,42.9,44.2,58.1,37.9],[45.9,72.8,24.5,80.4,30.1,51.2,51.5,43.6],[42.8,68.6,29.7,73.2,33.2,55.8,46.3,51.2]],
  [[64,56.8,28.5,63,35,28.6,70.5,22.4],[57.7,50.6,37.2,54.3,40.9,33.4,61.4,29.7],[49.7,65.3,27.3,70.9,30.9,36.7,53.3,31.1],[46,60.6,32.6,64.1,34.8,42.4,48.2,38.9],[38.3,74.1,15.6,79.5,19.7,49.9,42.4,44.5],[34.6,69.4,20.7,72.6,23.2,55,37.1,51.8]],
  [[3,40,4,35,11.9,30,40,23.9,68,20.4,105,19.2,105,45,10,45],[70,35,105,40,105,27,80,30],[3,44,18,35.3,55.6,32.4,105,28,105,50,10,50],[49,45,66.6,38.8,105,35,105,50,52,50],[-5,76.7,50,79.2,105,81,105,46,50,45,-5,45],[-5,66.6,50,71.8,105,73.4,105,53,50,53.4,-5,55.3]],
  [[29,45,23,37,29.2,27.2,56,23.3,105,17.5,105,48,35,48],[75,34,105,36,105,27,80,29],[34,46,40,35,68.6,31,105,26.5,105,48,36,48],[66,45,78,39.8,105,35.5,105,48,68,48],[-5,75,50,78,105,82,105,45.6,50,45,-5,44.7],[-5,62.7,50,70.9,105,74.4,105,52.4,50,53,-5,55.3]],
  [[10,40,17,68,26,58,35,38,34,25,29.8,19,18,26],[20,38,29,38,27,27.5,22,30],[4.7,55,8,70,12,77.3,18,62,24.4,42,22,28,13,33,7,42],[9.4,55,13,68,18,55,21,44,18.8,37,12,43],[18,57,22,65,31,71,50,77.7,105,83.5,105,45.5,50,44,28,43.7,21,49],[36.7,59.6,41,64,50,69,70,73,105,75.5,105,52,50,52.4,41,55]],
  [[68.9,56.8,34,63,40.3,28.6,75.2,22.4],[63.6,50.6,42.7,54.3,46.4,33.4,67.3,29.7],[57.6,65.3,34.2,70.9,38,36.7,61.4,31.1],[54.2,60.6,39.9,64.1,42.2,42.4,56.5,38.9],[45.1,74.1,20.4,79.5,24.9,49.9,49.6,44.5],[41.7,69.4,26.6,72.6,29.3,55,44.4,51.8]],
  [[65.1,56,30,63.5,37.7,29.4,72.8,21.9],[60.1,50.1,39.4,54.6,43.9,33.9,64.6,29.4],[51.8,64.2,22.1,71.7,28.6,37.8,58.3,30.3],[47,59.9,29,64.6,33,43.1,51,38.4],[49.4,72.8,28,80.4,33.6,51.2,55,43.6],[46.4,68.6,33.3,73.2,36.8,55.8,49.9,51.2]],
  [[58.9,47.3,31.4,67,50.1,38.1,77.6,18.4],[55.7,44.8,38.8,56.7,50.3,39.2,67.2,27.3],[57.1,55.6,29.1,75.1,48.1,46.4,76.1,26.9],[54.4,54.4,37.3,66.7,49,48.6,66.1,36.3],[37.9,66,11.9,82.9,29.5,58,55.5,41.1],[34.7,64.6,19.1,74.7,29.7,59.8,45.3,49.7]],
  [[61.8,57.5,24.5,62.5,29.8,27.9,67.1,22.9],[54,51,31.3,54,34.6,33,57.3,30],[53.4,66.5,30.6,70,33,35.5,55.8,32],[48.9,61.3,34.8,63.5,36.3,41.7,50.4,39.5],[36,74.8,14.3,79,17.4,49.2,39.1,45],[32.2,69.8,18.7,72.4,20.6,54.6,34.1,52]],
  [[65.3,62.2,27.9,57.8,23.1,23.2,60.5,27.6],[57.1,53.9,33.8,51.2,30.9,30.1,54.2,32.8],[74.2,72.2,45.5,63.3,37.8,29.8,66.5,38.7],[67.3,64.9,49.5,59.3,44.7,38.1,62.5,43.7],[42.6,77.8,22.4,76.3,21.4,46.2,41.6,47.7],[38.3,71.6,25.7,70.7,25.1,52.8,37.7,53.7]],
];
const contourRows: any[] = [null, row_wb, row_th, row_ns, row_ta, row_a0, row_a1, row_a2, row_z, row_y, row_h, row_as, row_s8, row_om];

const isAlpha = (i: number) => i >= 5 && i <= 7;
function toVal(i: number, p: number) {
  const t = axisTicks[i];
  const a = isAlpha(i) ? 0 : 8.4;
  const b = isAlpha(i) ? 100 : 92.4;
  return t[0] + ((t[2] - t[0]) * (p - a)) / (b - a);
}
const pairs = (flat: number[], i: number, j: number) => {
  const out = [];
  for (let k = 0; k < flat.length; k += 2) out.push({ x: toVal(i, flat[k]), y: toVal(j, flat[k + 1]) });
  return out;
};

function diagDatasets(i: number) {
  const gauss: Record<number, number[][]> = { 0: pdf_wc, 1: pdf_wb, 2: pdf_th, 3: pdf_ns, 4: pdf_ta, 7: pdf_a2, 8: pdf_z, 9: pdf_y, 10: pdf_h, 11: pdf_as, 12: pdf_s8, 13: pdf_om };
  const flatXY = (f: number[]) => { const o = []; for (let k = 0; k < f.length; k += 2) o.push({ x: toVal(i, f[k]), y: f[k + 1] }); return o; };
  let curves: { x: number; y: number }[][];
  let tension = 0.4;
  if (i === 5 || i === 6) {
    curves = (i === 5 ? curve_a0 : curve_a1).map(flatXY);
    tension = 0;
  } else {
    curves = gauss[i].map((xs) => xs.map((x, k) => ({ x: toVal(i, x), y: curveLevels[k] })));
    if (i === 7) curves.push(flatXY(curve_a2_green));
  }
  return curves.map((data, s) => ({ data, borderColor: seriesColors[s], borderWidth: 6, pointRadius: 0, fill: false, tension: i === 7 && s === 2 ? 0.2 : tension, clip: 0, order: 10 - s, capBezierPoints: false }));
}

function contourDatasets(r: number, c: number) {
  const groups: number[][] = contourRows[r][c];
  const alphaPair = isAlpha(r) && isAlpha(c);
  const sets: any[] = [];
  groups.forEach((flat, k) => {
    if (!flat.length) return;
    const s = Math.min(Math.floor(k / 2), 2);
    const inner = k % 2 === 1 || k === 6;
    const n = flat.length / 2;
    sets.push({
      data: pairs(flat, c, r),
      loopShape: true,
      fill: "shape",
      backgroundColor: inner ? seriesColors[s] : seriesLight[s],
      borderColor: seriesColors[s],
      borderWidth: inner ? 0 : 1.1,
      pointRadius: 0,
      tension: n === 4 ? 0.55 : alphaPair ? 0.15 : 0.3,
      capBezierPoints: false,
      clip: 0,
      order: 100 - k,
    });
  });
  return sets;
}

const loopPlugin = {
  id: "loopShape",
  afterDatasetsUpdate(chart: any) {
    chart.data.datasets.forEach((d: any, i: number) => {
      if (!d.loopShape) return;
      const line = chart.getDatasetMeta(i).dataset;
      if (!line) return;
      line._loop = true;
      line._fullLoop = true;
      line._pointsUpdated = false;
      delete line._segments;
      delete line._path;
    });
  },
};

function drawMath(ctx: any, parts: [string, string][], cx: number, cy: number, rotate: boolean) {
  const fonts: Record<string, string> = {
    r: '28px "Liberation Serif"', i: 'italic 28px "Liberation Serif"', s: 'italic 20px "Liberation Serif"',
    n: '20px "Liberation Serif"', u: '18px "Liberation Serif"',
  };
  const dy: Record<string, number> = { r: 0, i: 0, s: 6, n: 6, u: -11 };
  let w = 0;
  for (const [t, k] of parts) { ctx.font = fonts[k]; w += ctx.measureText(t).width; }
  ctx.save();
  ctx.translate(cx, cy);
  if (rotate) ctx.rotate(-Math.PI / 2);
  ctx.fillStyle = "#000";
  ctx.textBaseline = "alphabetic";
  ctx.textAlign = "left";
  let x = -w / 2;
  for (const [t, k] of parts) { ctx.font = fonts[k]; ctx.fillText(t, x, dy[k]); x += ctx.measureText(t).width; }
  ctx.restore();
}

const framePlugin = {
  id: "frame",
  afterDraw(chart: any, _a: any, o: any) {
    const { ctx } = chart;
    const { x: sx, y: sy } = chart.scales;
    ctx.save();
    ctx.strokeStyle = "#222";
    ctx.lineWidth = 1;
    ctx.strokeRect(o.left + 0.5, o.top + 0.5, o.w, o.h);
    ctx.beginPath();
    for (const t of sx.ticks) {
      const px = Math.round(sx.getPixelForValue(t.value)) + 0.5;
      ctx.moveTo(px, o.top + o.h - 3);
      ctx.lineTo(px, o.top + o.h + 4);
    }
    if (!o.diag) {
      for (const t of sy.ticks) {
        const py = Math.round(sy.getPixelForValue(t.value)) + 0.5;
        ctx.moveTo(o.left - 3, py);
        ctx.lineTo(o.left + 4, py);
        ctx.moveTo(o.left + o.w - 3, py);
        ctx.lineTo(o.left + o.w + 4, py);
      }
    }
    ctx.stroke();
    ctx.restore();
    if (o.xName) drawMath(ctx, o.xName, o.left + o.w / 2, 2913 - o.originY, false);
    if (o.yName) drawMath(ctx, o.yName, o.yNameX, o.top + o.h / 2, true);
  },
};

const legendFramePlugin = {
  id: "legendFrame",
  beforeDraw(chart: any) {
    const { ctx } = chart;
    ctx.save();
    ctx.strokeStyle = "#d6d6d6";
    ctx.lineWidth = 1.5;
    ctx.beginPath();
    ctx.roundRect(8, 7, 564, 190, 6);
    ctx.stroke();
    ctx.restore();
  },
};

const X0 = 115, Y0 = 37, CW = 203.3, CH = 202.05;
const panels: any[] = [];
for (let r = 0; r < 14; r++) {
  for (let c = 0; c <= r; c++) {
    const px = Math.round(X0 + CW * c), py = Math.round(Y0 + CH * r);
    const w = Math.round(X0 + CW * (c + 1)) - px, h = Math.round(Y0 + CH * (r + 1)) - py;
    const cl = c === 0 ? px : 6, ct = 6, cr = 6, cb = r === 13 ? 2964 - py - h : 6;
    panels.push({ r, c, px, py, w, h, cl, ct, cr, cb });
  }
}

const noPadding = (s: any) => { s.paddingLeft = 0; s.paddingRight = 0; s.paddingTop = 0; s.paddingBottom = 0; };

function makePanel(canvas: HTMLCanvasElement, p: any) {
  const { r, c, w, h, cl, ct, cr, cb } = p;
  const diag = r === c;
  const insX = diag ? 0 : 0.02 * w;
  const insY = diag ? 0 : 0.02 * h;
  const lo = diag ? 0 : 2, hi = diag ? 100 : 98;
  const font = { family: '"Liberation Sans"', size: 14 };
  return new Chart(canvas, {
    type: "line",
    data: { datasets: diag ? diagDatasets(c) : contourDatasets(r, c) },
    options: {
      animation: false,
      responsive: false,
      maintainAspectRatio: false,
      events: [],
      layout: { autoPadding: false, padding: { left: 0, bottom: 0, top: ct + insY, right: cr + insX } },
      plugins: {
        legend: { display: false },
        tooltip: { enabled: false },
        frame: { left: cl, top: ct, w, h, diag, originY: p.py - ct, xName: r === 13 ? mathNames[c] : null, yName: c === 0 && r > 0 ? mathNames[r] : null, yNameX: yNameX[r] },
      },
      scales: {
        x: {
          type: "linear",
          min: toVal(c, lo),
          max: toVal(c, hi),
          grid: { display: false, drawTicks: false },
          border: { display: false },
          afterBuildTicks: (s: any) => { s.ticks = axisTicks[c].map((value) => ({ value })); },
          afterFit: (s: any) => { s.height = cb + insY; noPadding(s); },
          ticks: {
            display: r === 13, autoSkip: false, maxRotation: 0, minRotation: 0, padding: 8 + insY, color: "#111", font,
            callback: (_v: any, i: number) => axisLabels[c][i],
          },
        },
        y: {
          type: "linear",
          min: diag ? 0 : toVal(r, lo),
          max: diag ? 1.05 : toVal(r, hi),
          grid: { display: false, drawTicks: false },
          border: { display: false },
          afterBuildTicks: (s: any) => { if (!diag) s.ticks = axisTicks[r].map((value) => ({ value })); },
          afterFit: (s: any) => { s.width = cl + insX; noPadding(s); },
          ticks: {
            display: c === 0 && !diag, autoSkip: false, maxRotation: 0, minRotation: 0, padding: 7 + insX, color: "#111", font,
            callback: (_v: any, i: number) => (diag ? "" : axisLabels[r][i]),
          },
        },
      },
    } as any,
    plugins: [loopPlugin, framePlugin],
  });
}

export default function App() {
  const refs = useRef<(HTMLCanvasElement | null)[]>([]);
  const legendRef = useRef<HTMLCanvasElement | null>(null);
  useEffect(() => {
    const charts = panels.map((p, i) => makePanel(refs.current[i] as HTMLCanvasElement, p));
    const lc = legendRef.current as HTMLCanvasElement;
    const lctx = lc.getContext("2d") as CanvasRenderingContext2D;
    // The legend swatch is 103 px wide so the text starts where it does in the reference; only its first 90 px are painted.
    const swatch = (col: string) => {
      const g = lctx.createLinearGradient(20, 0, 123, 0);
      g.addColorStop(0, col);
      g.addColorStop(0.874, col);
      g.addColorStop(0.874, "rgba(255,255,255,0)");
      g.addColorStop(1, "rgba(255,255,255,0)");
      return g;
    };
    const legend = new Chart(lc, {
      type: "line",
      data: { datasets: seriesNames.map((label, s) => ({ label, data: [], backgroundColor: swatch(seriesColors[s]), borderColor: seriesColors[s], borderWidth: 0 })) },
      options: {
        animation: false,
        responsive: false,
        maintainAspectRatio: false,
        events: [],
        scales: { x: { display: false }, y: { display: false } },
        plugins: {
          tooltip: { enabled: false },
          legend: {
            position: "top",
            align: "start",
            maxHeight: 205,
            labels: { boxWidth: 103, boxHeight: 6, padding: 20, color: "#000", font: { family: '"Liberation Sans"', size: 40 } },
          },
        },
      } as any,
      plugins: [legendFramePlugin],
    });
    return () => { charts.forEach((c) => c.destroy()); legend.destroy(); };
  }, []);
  return (
    <div style={{ position: "absolute", left: 0, top: 0, width: 3022, height: 2964, background: "#fff", overflow: "hidden" }}>
      {panels.map((p, i) => (
        <canvas
          key={i}
          ref={(el) => { refs.current[i] = el; }}
          width={p.w + p.cl + p.cr}
          height={p.h + p.ct + p.cb}
          style={{ position: "absolute", left: p.px - p.cl, top: p.py - p.ct, width: p.w + p.cl + p.cr, height: p.h + p.ct + p.cb }}
        />
      ))}
      <canvas ref={legendRef} width={580} height={205} style={{ position: "absolute", left: 2390, top: 30, width: 580, height: 205 }} />
    </div>
  );
}
